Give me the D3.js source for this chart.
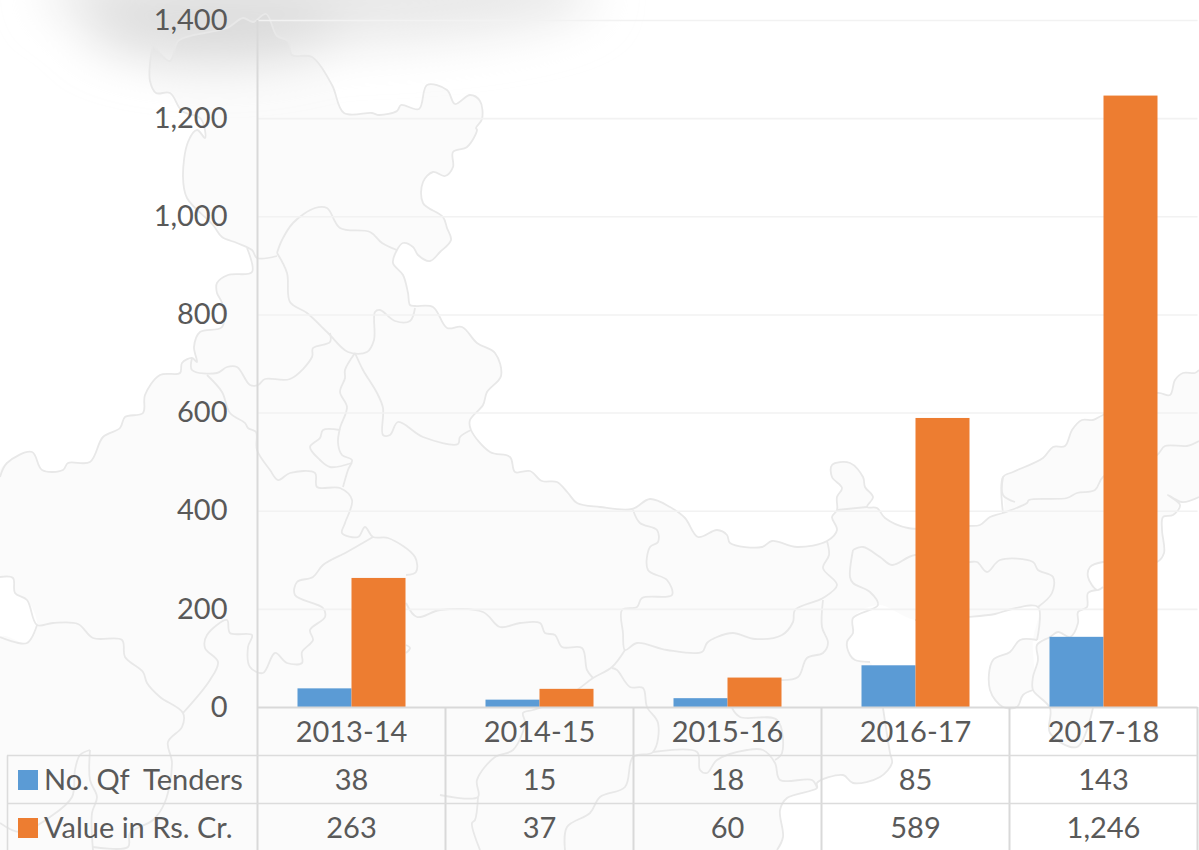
<!DOCTYPE html>
<html lang="en">
<head>
    <meta charset="UTF-8">
    <title>Tenders by year</title>
    <script src="https://d3js.org/d3.v7.min.js"></script>
    <style>
        html, body { margin: 0; padding: 0; background: #fff; overflow: hidden; }
        svg { display: block; }
        text { font-family: Lato, "Open Sans", sans-serif; font-size: 29px; fill: #595959; }
        .tick line { stroke: #f2f2f2; stroke-width: 1.6; }
        .tick text { fill: #595959; }
        .rule { stroke: #d9d9d9; stroke-width: 2; fill: none; }
        .thin { stroke: #dcdcdc; stroke-width: 1.6; fill: none; }
        .border { stroke: #e8e8e8; stroke-width: 1.8; fill: none; stroke-linejoin: round; }
    </style>
</head>
<body>
    <svg id="chart" width="1199" height="850"></svg>

    <script>
        // Chart data
        const years = ["2013-14", "2014-15", "2015-16", "2016-17", "2017-18"];
        const tenders = [38, 15, 18, 85, 143];
        const values = [263, 37, 60, 589, 1246];
        const seriesNames = ["No. Qf  Tenders", "Value in Rs. Cr."];
        const seriesColors = ["#5b9bd5", "#ed7d31"];
        const yTicks = [0, 200, 400, 600, 800, 1000, 1200, 1400];

        // Background map, traced by hand. Only decoration, not data.
        const mapFill = [
            [153,45],[170,61],[178,41],[190,36],[227,28],[243,18],[253,22],[266,14],[277,36],[288,41],[292,55],[312,57],
            [332,85],[344,113],[372,113],[379,115],[397,111],[401,105],[419,109],[427,85],[447,90],[455,104],[470,95],
            [480,101],[482,119],[476,128],[477,130],[467,147],[453,152],[453,167],[445,176],[433,172],[423,182],[423,203],
            [443,217],[447,228],[451,240],[440,252],[430,261],[418,255],[413,247],[403,243],[397,250],[393,263],[403,275],
            [408,293],[410,305],[415,306],[433,307],[447,328],[462,327],[477,343],[495,353],[501,376],[487,392],[483,405],
            [470,420],[471,430],[490,452],[510,457],[515,472],[530,471],[542,481],[557,482],[568,493],[577,503],[600,507],
            [632,509],[650,499],[670,507],[685,518],[698,537],[717,530],[727,535],[730,543],[762,547],[772,541],[797,547],
            [827,541],[837,530],[832,517],[837,510],[837,497],[842,488],[832,477],[832,465],[850,463],[863,477],[865,487],
            [873,497],[867,507],[877,508],[885,518],[908,528],[968,526],[980,525],[990,517],[1003,513],[1003,477],[1013,472],
            [1043,458],[1053,447],[1065,446],[1072,430],[1082,420],[1093,420],[1103,415],[1157,393],[1170,395],[1175,380],
            [1183,373],[1195,373],[1199,370],[1199,497],[1182,502],[1173,515],[1163,517],[1162,530],[1164,553],[1157,562],
            [1103,562],[1090,567],[1088,577],[1097,590],[1088,593],[1087,607],[1078,612],[1078,623],[1070,637],[1058,632],
            [1050,637],[1037,645],[1038,660],[1033,677],[1033,690],[1050,708],[1050,733],[1077,747],[1093,708],[1078,640],
            [1037,640],[1020,640],[1010,652],[993,660],[990,690],[1003,707],[1017,707],[1023,695],[1033,690],[1033,640],
            [1038,607],[1012,609],[995,614],[968,617],[915,620],[878,605],[853,618],[853,633],[847,642],[850,655],[855,660],
            [870,662],[883,708],[890,753],[892,763],[880,777],[853,783],[843,775],[817,783],[817,788],[787,798],[780,810],
            [783,837],[777,850],[0,850],[0,637],[27,643],[37,625],[27,600],[15,593],[13,578],[0,577],[0,470],[7,463],[32,452],
            [42,470],[63,470],[68,463],[90,462],[103,437],[120,428],[125,417],[143,413],[145,395],[160,375],[180,373],
            [182,363],[192,358],[197,362],[194,347],[200,332],[222,327],[222,303],[217,293],[217,283],[228,275],[252,272],
            [247,248],[237,243],[222,237],[213,225],[187,198],[183,177],[188,142],[197,130],[205,138],[201,119],[182,111],
            [170,93],[156,93],[150,81],[150,63]
        ];
        const mapLines = [
            [[153,45],[170,61],[178,41],[190,36],[227,28],[243,18],[253,22],[266,14],[277,36],[288,41],[292,55],[312,57],[332,85],[344,113],[372,113],[379,115],[397,111],[401,105],[419,109],[427,85],[447,90],[455,104],[470,95],[480,101],[482,119],[476,128],[477,130],[467,147],[453,152],[453,167],[445,176],[433,172],[423,182],[423,203],[443,217],[447,228],[451,240],[440,252],[430,261],[418,255],[413,247],[403,243],[397,250],[393,263],[403,275],[408,293],[410,305],[415,306],[433,307],[447,328],[462,327],[477,343],[495,353],[501,376],[487,392],[483,405],[470,420],[471,430],[490,452],[510,457],[515,472],[530,471],[542,481],[557,482],[568,493],[577,503],[600,507],[632,509],[650,499],[670,507],[685,518],[698,537],[717,530],[727,535],[730,543],[762,547],[772,541],[797,547],[827,541],[837,530],[832,517],[837,510],[837,497],[842,488],[832,477],[832,465],[850,463],[863,477],[865,487],[873,497],[867,507],[877,508],[885,518],[908,528],[968,526],[980,525],[990,517],[1003,513],[1027,503],[1029,500],[1067,498],[1077,493],[1095,490],[1103,477],[1157,455],[1165,446],[1187,446],[1199,441]],
            [[153,45],[150,63],[150,81],[156,93],[170,93],[182,111],[201,119],[205,138],[197,130],[188,142],[183,177],[187,198],[213,225],[222,237],[237,243],[252,250],[257,258],[277,256]],
            [[1003,513],[1003,477],[1013,472],[1043,458],[1053,447],[1065,446],[1072,430],[1082,420],[1093,420],[1103,415],[1157,393],[1170,395],[1175,380],[1183,373],[1195,373],[1199,370]],
            [[1003,477],[1003,495],[1015,502]],
            [[1199,497],[1182,502],[1168,495],[1180,505],[1173,515],[1163,517],[1162,530],[1164,553],[1157,562],[1103,562],[1090,567],[1088,577],[1097,590],[1103,587]],
            [[1097,590],[1088,593],[1087,607],[1078,612],[1078,623],[1070,637],[1058,632],[1050,637],[1037,645],[1038,660],[1033,677],[1033,690],[1050,708],[1050,733],[1077,747],[1093,708]],
            [[1037,640],[1020,640],[1010,652],[993,660],[990,690],[1003,707],[1017,707],[1023,695],[1033,690]],
            [[1037,640],[1038,607],[1012,609],[995,614],[968,617],[915,620]],
            [[853,550],[863,547],[880,557],[892,565],[915,555],[968,562],[977,562],[987,572],[1000,560],[1033,562],[1038,570],[1053,577],[1052,593],[1038,607]],
            [[837,510],[867,507]],
            [[853,550],[850,577],[853,583],[870,592],[878,605],[853,618],[853,633],[847,642],[850,655],[855,660],[870,662]],
            [[883,708],[890,753],[892,763],[880,777],[853,783],[843,775],[817,783],[817,788],[787,798],[780,810],[783,837],[777,850]],
            [[247,248],[252,272],[228,275],[217,283],[217,293],[222,303],[222,327],[200,332],[194,347],[197,362],[192,358],[182,363],[180,373],[160,375],[145,395],[143,413],[125,417],[120,428],[103,437],[90,462],[68,463],[63,470],[42,470],[32,452],[7,463],[0,477]],
            [[192,358],[192,370],[217,373],[227,367],[237,367],[250,385],[258,385],[265,379],[290,379],[312,357],[313,348],[330,342],[330,333]],
            [[277,253],[287,273],[290,302],[307,313],[328,333],[348,352],[367,352],[374,340],[375,312],[380,310],[395,321],[410,321],[415,308]],
            [[277,253],[282,240],[293,223],[315,208],[327,208],[340,228],[370,232],[382,243],[397,250]],
            [[355,353],[345,370],[345,378],[340,392],[347,407],[340,428],[338,443],[342,455],[352,460],[348,470],[343,487]],
            [[355,353],[363,370],[377,393],[383,408],[383,435],[390,435],[398,422],[423,437],[458,444],[460,437],[471,430]],
            [[340,430],[323,430],[320,438],[310,447],[320,460],[330,467],[352,463]],
            [[207,375],[222,392],[230,413],[245,423],[248,428],[256,432],[257,450],[270,470],[278,480],[290,473],[315,473],[317,487],[340,488],[352,500],[345,523],[342,533],[358,537],[365,527],[373,537],[388,538],[415,557],[416,572],[406,575]],
            [[406,603],[417,617],[440,610],[483,612],[500,627],[520,623],[540,623],[545,633],[555,635],[562,647],[582,648],[587,670],[593,678]],
            [[373,537],[347,552],[323,565],[313,577],[297,582],[295,595],[323,608],[325,617],[310,630],[313,640],[302,652],[302,663],[287,663],[275,653],[263,673],[250,667],[248,647],[252,635],[230,633],[227,620],[207,635],[205,648],[218,662],[210,680],[183,713]],
            [[406,645],[410,648],[406,653]],
            [[0,577],[13,578],[15,593],[27,600],[37,625],[53,623],[78,624],[93,638],[122,640],[125,657],[143,672],[147,683],[160,697],[183,713],[182,727],[168,742],[172,763],[165,802],[153,820],[130,833],[128,847],[93,847]],
            [[0,637],[27,643],[37,625]],
            [[90,750],[80,755],[75,770],[72,797],[50,817],[20,832],[0,823]],
            [[90,750],[90,780],[97,797],[92,813],[93,850]],
            [[633,510],[640,523],[657,530],[658,542],[650,547],[648,570],[667,580],[672,595],[642,598],[637,607],[622,610],[623,633],[625,650],[637,643],[667,650],[702,652],[707,643],[717,637],[733,633],[755,639],[782,635],[793,622],[795,610],[823,598],[837,585],[823,568],[829,555],[827,541]],
            [[625,650],[612,667],[593,678],[577,690],[553,703],[533,710],[523,713],[525,723],[513,750],[495,757],[477,780],[478,797],[440,795]],
            [[478,797],[475,820],[472,823],[480,850]],
            [[612,668],[617,670],[630,687],[643,688],[647,707],[658,723],[653,752],[633,757],[625,787],[600,797],[590,813],[567,827],[565,850]],
            [[653,752],[697,752],[700,770],[707,773],[717,760],[747,750],[763,750],[775,763],[780,780],[812,780],[817,788]],
            [[732,708],[740,717],[777,720],[782,753],[775,760]],
            [[823,600],[822,627],[828,643],[823,653],[807,658],[798,677],[780,680]]
        ];

        const svg = d3.select("#chart");

        // Grey smudge along the top of the picture
        const defs = svg.append("defs");
        defs.append("filter").attr("id", "smudge")
            .attr("x", "-30%").attr("y", "-100%").attr("width", "160%").attr("height", "300%")
            .append("feGaussianBlur").attr("stdDeviation", 24);
        const smudge = svg.append("g").attr("filter", "url(#smudge)");
        smudge.append("ellipse").attr("cx", 320).attr("cy", -6).attr("rx", 275).attr("ry", 50).attr("fill", "#e9e9e9");
        smudge.append("ellipse").attr("cx", 215).attr("cy", 26).attr("rx", 130).attr("ry", 36).attr("fill", "#dedede");

        // Map behind the chart
        const mapLine = d3.line().curve(d3.curveCatmullRom.alpha(0.5));
        svg.append("path")
            .attr("d", mapLine(mapFill) + "Z")
            .attr("fill", "#000")
            .attr("fill-opacity", 0.014);
        svg.append("g").selectAll("path")
            .data(mapLines)
            .enter().append("path")
            .attr("class", "border")
            .attr("d", mapLine);

        // Scales
        const x = d3.scaleBand().domain(years).range([257.5, 1197.5]);
        const y = d3.scaleLinear().domain([0, 1400]).range([707, 20]);
        const barX = d3.scaleBand().domain(seriesNames).range([0, 108]);
        const barOffset = (x.bandwidth() - barX.range()[1]) / 2;

        // Y axis with gridlines
        const yAxis = svg.append("g")
            .attr("transform", "translate(257.5,0)")
            .call(d3.axisLeft(y)
                .tickValues(yTicks)
                .tickFormat(d3.format(","))
                .tickSize(-940)
                .tickPadding(30));
        yAxis.select(".domain").remove();
        yAxis.selectAll(".tick line").filter(d => d === 0).remove();
        yAxis.selectAll(".tick text").style("font-size", "29px").style("font-family", "Lato, 'Open Sans', sans-serif");

        // Bars
        const rows = [tenders, values];
        rows.forEach((row, s) => {
            svg.append("g").selectAll("rect")
                .data(row)
                .enter().append("rect")
                .attr("x", (d, i) => x(years[i]) + barOffset + barX(seriesNames[s]))
                .attr("y", d => y(d))
                .attr("width", barX.bandwidth())
                .attr("height", d => y(0) - y(d))
                .attr("fill", seriesColors[s]);
        });

        // Data table under the chart
        const rowY = [755.5, 803.5];
        const table = svg.append("g");
        table.append("line").attr("class", "rule")
            .attr("x1", 257.5).attr("x2", 1197.5).attr("y1", 707.5).attr("y2", 707.5);
        table.append("line").attr("class", "rule")
            .attr("x1", 257.5).attr("x2", 257.5).attr("y1", 20).attr("y2", 850);
        table.selectAll(".col")
            .data(years)
            .enter().append("line")
            .attr("class", "rule")
            .attr("x1", d => x(d) + x.bandwidth())
            .attr("x2", d => x(d) + x.bandwidth())
            .attr("y1", 707)
            .attr("y2", 850);
        table.append("line").attr("class", "thin")
            .attr("x1", 7.5).attr("x2", 7.5).attr("y1", rowY[0]).attr("y2", 850);
        table.selectAll(".row")
            .data(rowY)
            .enter().append("line")
            .attr("class", "thin")
            .attr("x1", 7).attr("x2", 1197.5)
            .attr("y1", d => d).attr("y2", d => d);

        // Year header
        table.selectAll(".year")
            .data(years)
            .enter().append("text")
            .attr("x", d => x(d) + x.bandwidth() / 2)
            .attr("y", 732)
            .attr("dy", "0.36em")
            .attr("text-anchor", "middle")
            .text(d => d);

        // Table rows with their legend keys
        rows.forEach((row, s) => {
            const cy = rowY[s] + 24.5;
            table.append("rect")
                .attr("x", 18).attr("y", cy - 10)
                .attr("width", 20).attr("height", 20)
                .attr("fill", seriesColors[s]);
            table.append("text")
                .attr("x", 44).attr("y", cy)
                .attr("dy", "0.36em")
                .style("white-space", "pre")
                .text(seriesNames[s]);
            table.selectAll(".cell" + s)
                .data(row)
                .enter().append("text")
                .attr("x", (d, i) => x(years[i]) + x.bandwidth() / 2)
                .attr("y", cy)
                .attr("dy", "0.36em")
                .attr("text-anchor", "middle")
                .text(d => d3.format(",")(d));
        });
    </script>
</body>
</html>
